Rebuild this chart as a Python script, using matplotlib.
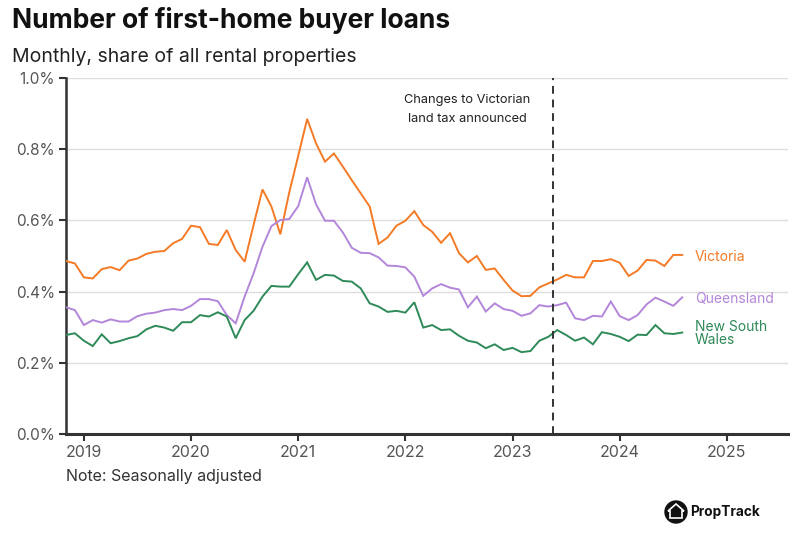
import matplotlib
matplotlib.use("Agg")
import matplotlib.pyplot as plt
from matplotlib.patches import Circle, Polygon
import numpy as np

plt.rcParams['font.family'] = ['Inter', 'DejaVu Sans']

# Monthly data, Nov 2018 .. Aug 2024 (share %, seasonally adjusted)
start_year = 2018
start_month = 11
victoria = [0.486, 0.479, 0.440, 0.437, 0.463, 0.469, 0.460, 0.487, 0.493, 0.506,
            0.512, 0.514, 0.536, 0.548, 0.585, 0.581, 0.534, 0.531, 0.573, 0.517,
            0.484, 0.587, 0.687, 0.639, 0.561, 0.679, 0.781, 0.885, 0.816, 0.765,
            0.788, 0.751, 0.713, 0.676, 0.639, 0.534, 0.552, 0.585, 0.599, 0.626,
            0.587, 0.568, 0.537, 0.564, 0.508, 0.482, 0.500, 0.461, 0.465, 0.433,
            0.403, 0.387, 0.388, 0.412, 0.423, 0.434, 0.447, 0.440, 0.440, 0.486,
            0.486, 0.491, 0.481, 0.444, 0.459, 0.489, 0.487, 0.472, 0.503, 0.503]
queensland = [0.356, 0.348, 0.306, 0.320, 0.313, 0.322, 0.316, 0.316, 0.331, 0.338,
              0.341, 0.348, 0.351, 0.348, 0.360, 0.379, 0.379, 0.373, 0.334, 0.311,
              0.386, 0.451, 0.526, 0.584, 0.601, 0.604, 0.640, 0.721, 0.645, 0.599,
              0.599, 0.566, 0.523, 0.509, 0.508, 0.496, 0.473, 0.472, 0.468, 0.442,
              0.388, 0.409, 0.421, 0.411, 0.406, 0.356, 0.386, 0.344, 0.367, 0.351,
              0.346, 0.332, 0.339, 0.362, 0.358, 0.362, 0.369, 0.325, 0.320, 0.332,
              0.330, 0.372, 0.331, 0.320, 0.334, 0.364, 0.383, 0.372, 0.360, 0.384]
nsw = [0.278, 0.283, 0.262, 0.247, 0.280, 0.255, 0.261, 0.269, 0.275, 0.294,
       0.304, 0.299, 0.290, 0.314, 0.314, 0.334, 0.330, 0.342, 0.330, 0.269,
       0.320, 0.346, 0.386, 0.416, 0.414, 0.414, 0.449, 0.482, 0.433, 0.447,
       0.445, 0.430, 0.428, 0.409, 0.367, 0.358, 0.343, 0.346, 0.341, 0.370,
       0.299, 0.306, 0.292, 0.294, 0.276, 0.262, 0.257, 0.241, 0.252, 0.236,
       0.242, 0.230, 0.233, 0.262, 0.273, 0.292, 0.278, 0.262, 0.271, 0.252,
       0.286, 0.281, 0.273, 0.261, 0.279, 0.278, 0.306, 0.283, 0.281, 0.285]
series_names = ["Victoria", "Queensland", "New South\nWales"]
year_ticks = [2019, 2020, 2021, 2022, 2023, 2024, 2025]
y_ticks = [0.0, 0.2, 0.4, 0.6, 0.8, 1.0]
event_date = 2023.38
event_label = "Changes to Victorian\nland tax announced"

colors = ["#F47A26", "#B386DA", "#2E8A58"]

n = len(victoria)
x = np.array([start_year + (start_month - 1) / 12 + i / 12 for i in range(n)])

fig = plt.figure(figsize=(8, 5.33), dpi=100)
ax = fig.add_axes([0.0825, 0.1857, 0.9025, 0.668])

for vals, c in zip([victoria, queensland, nsw], colors):
    ax.plot(x, vals, color=c, lw=1.4, solid_joinstyle='miter', zorder=3)

ax.set_xlim(x[0], 2025.57)
ax.set_ylim(0, 1.0)
ax.set_yticks(y_ticks)
ax.set_yticklabels([f"{v:.1f}%" for v in y_ticks])
ax.set_xticks(year_ticks)
ax.set_xticklabels([str(y) for y in year_ticks])
ax.grid(axis='y', color='#dddddd', lw=1.0, zorder=0)
ax.set_axisbelow(True)
for s in ['top', 'right']:
    ax.spines[s].set_visible(False)
ax.spines['left'].set_color('#333333')
ax.spines['left'].set_linewidth(1.8)
ax.spines['bottom'].set_color('#333333')
ax.spines['bottom'].set_linewidth(2.2)
ax.tick_params(axis='both', colors='#333333', labelcolor='#555555', labelsize=11.5,
               length=5, width=1.5, pad=3)
ax.tick_params(axis='y', labelsize=11)

ax.axvline(event_date, color='#333333', lw=1.4, ls=(0, (4, 3)), zorder=4)
ax.text(event_date - 0.80, 0.955, event_label, ha='center', va='top',
        fontsize=9.2, color='#222222', linespacing=1.8)

label_y = [0.502, 0.384, 0.285]
label_dy = [-0.004, -0.004, -0.002]
for name, c, yv, dy in zip(series_names, colors, label_y, label_dy):
    ax.text(x[-1] + 0.12, yv + dy, name, color=c, fontsize=10, va='center',
            ha='left', linespacing=0.95)

fig.text(12 / 800, 1 - 20 / 533, "Number of first-home buyer loans", fontsize=19,
         fontweight='bold', ha='left', va='center', color='#111111')
fig.text(12 / 800, 1 - 57 / 533, "Monthly, share of all rental properties", fontsize=14,
         ha='left', va='center', color='#222222')
fig.text(66 / 800, 1 - 476 / 533, "Note: Seasonally adjusted", fontsize=11.5,
         ha='left', va='center', color='#333333')

# PropTrack logo
lax = fig.add_axes([0, 0, 1, 1], facecolor='none')
lax.set_xlim(0, 800)
lax.set_ylim(533, 0)
lax.axis('off')
lax.add_patch(Circle((676, 512), 11, color='#111111'))
lax.add_patch(Polygon([[670, 518], [670, 511], [668, 511], [676, 504], [684, 511],
                       [682, 511], [682, 518]], closed=True, fill=False,
                      edgecolor='white', lw=1.2))
lax.text(690, 512, "PropTrack", fontsize=9.8, fontweight='bold', ha='left',
         va='center', color='#111111')

fig.savefig("out.png", dpi=100)
